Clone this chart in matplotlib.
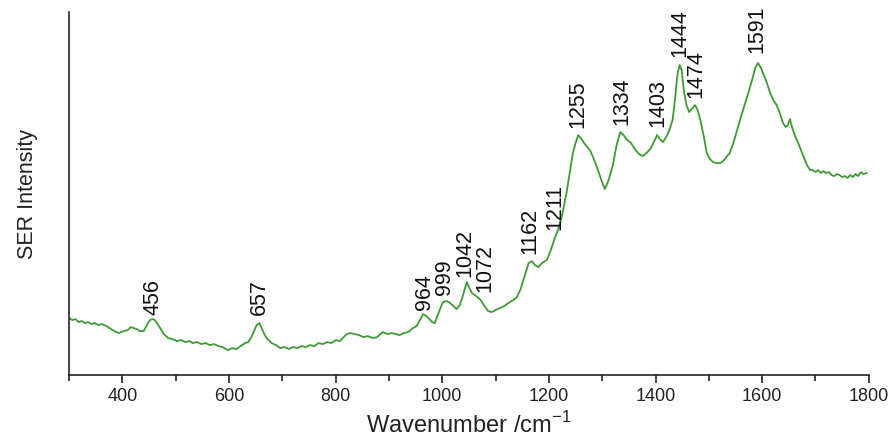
import matplotlib
matplotlib.use("Agg")
import matplotlib.pyplot as plt
from matplotlib.ticker import MultipleLocator

plt.rcParams['font.family'] = ['Liberation Sans', 'DejaVu Sans']
plt.rcParams['mathtext.fontset'] = 'custom'
plt.rcParams['mathtext.rm'] = 'Liberation Sans'

wavenumber = [
    300, 306, 312, 318, 324, 330, 336, 342, 348, 355, 362, 370, 376, 382, 388, 394,
    402, 410, 416, 421, 427, 433, 440, 448, 452, 457, 461, 466, 471, 478, 486,
    494, 502, 510, 518, 526, 532, 540, 548, 556, 564, 572, 580, 588, 598, 606,
    614, 622, 630, 636, 642, 647, 652, 657, 662, 667, 672, 680, 688, 696, 704, 712,
    720, 728, 736, 744, 752, 760, 768, 776, 784, 792, 800, 808, 815, 821, 828, 836,
    844, 852, 860, 870, 878, 884, 889, 897, 905, 913, 920, 928, 936, 945, 952, 958,
    964, 970, 976, 981, 986, 993, 1001, 1008, 1015, 1021, 1027, 1033, 1039, 1046,
    1051, 1056, 1061, 1066, 1072, 1078, 1086, 1093, 1100, 1108, 1116, 1124, 1133,
    1140, 1147, 1155, 1162, 1168, 1174, 1180, 1187, 1196, 1203, 1211, 1217, 1224,
    1233, 1240, 1245, 1250, 1255, 1260, 1266, 1272, 1278, 1285, 1292, 1299, 1305,
    1312, 1320, 1327, 1334, 1340, 1347, 1354, 1361, 1369, 1376, 1383, 1390, 1396,
    1403, 1408, 1414, 1420, 1426, 1432, 1437, 1441, 1445, 1449, 1453, 1458, 1463,
    1468, 1474, 1479, 1484, 1490, 1496, 1502, 1508, 1514, 1521, 1527, 1533, 1539,
    1546, 1553, 1560, 1567, 1574, 1581, 1587, 1592, 1597, 1603, 1609, 1615, 1621,
    1627, 1633, 1639, 1644, 1648, 1652, 1656, 1661, 1666, 1672, 1678, 1684, 1690,
    1695, 1700, 1705, 1710, 1715, 1720, 1725, 1730, 1735, 1740, 1745, 1750, 1755,
    1760, 1765, 1770, 1775, 1780, 1785, 1790, 1796]
intensity = [
    57, 55, 56, 53, 54, 52, 53, 51, 52, 50, 51, 49, 47, 45, 43, 42,
    44, 45, 48, 47, 46, 44, 44, 52, 55, 56, 55, 51, 47, 41, 37,
    36, 34, 35, 33, 34, 32, 33, 31, 32, 30, 31, 29, 28, 25, 27,
    26, 29, 32, 33, 38, 44, 50, 52, 46, 40, 36, 32, 30, 27, 28, 26,
    28, 27, 29, 28, 30, 29, 32, 31, 33, 32, 35, 34, 38, 41, 42, 41,
    40, 38, 39, 37, 38, 41, 43, 41, 42, 41, 40, 42, 43, 47, 49, 55,
    61, 59, 56, 53, 52, 62, 73, 74, 72, 69, 66, 70, 80, 93,
    87, 82, 80, 78, 75, 70, 64, 63, 65, 67, 69, 72, 75,
    78, 86, 100, 112, 114, 110, 108, 112, 115, 124, 137, 145, 158,
    182, 205, 222, 232, 240, 237, 232, 228, 224, 215, 205, 194, 186,
    195, 210, 230, 243, 240, 235, 232, 226, 221, 219, 222, 226, 232,
    240, 236, 233, 238, 245, 255, 278, 300, 310, 305, 285, 270, 263,
    266, 270, 265, 255, 240, 222, 216, 213, 212, 212, 214, 218, 222,
    232, 245, 258, 270, 282, 295, 307, 312, 308, 300, 292, 282, 275,
    270, 262, 252, 248, 250, 256, 248, 240, 234, 226, 218, 210, 205,
    205, 203, 205, 202, 204, 202, 203, 200, 199, 201, 200, 198, 199,
    197, 200, 198, 201, 199, 203, 201, 202]

peak_labels = ['456', '657', '964', '999', '1042', '1072', '1162', '1211', '1255',
               '1334', '1403', '1444', '1474', '1591']
peak_pos = [458, 657, 966, 1004, 1043, 1079, 1164, 1211, 1255, 1336, 1405, 1446, 1476, 1591]
label_base = [60, 60, 65, 80, 98, 83, 121, 145, 247, 250, 248, 318, 277, 322]

fig = plt.figure(figsize=(8.92, 4.46), dpi=100)
ax = fig.add_axes([0.0774, 0.159, 0.8966, 0.814])
ax.plot(wavenumber, intensity, color='#3f9a35', lw=1.3)

for lab, xp, yb in zip(peak_labels, peak_pos, label_base):
    ax.text(xp, yb, lab, rotation=90, ha='center', va='bottom', fontsize=15.5, color='#111111')

ax.set_xlim(300, 1800)
ax.set_ylim(0, 363)
ax.set_xticks([400, 600, 800, 1000, 1200, 1400, 1600, 1800])
ax.xaxis.set_minor_locator(MultipleLocator(100))
ax.tick_params(axis='x', which='major', length=6, width=1.2, labelsize=13, pad=3, colors='#222222')
ax.tick_params(axis='x', which='minor', length=4, width=1.2, colors='#222222')
ax.set_yticks([])
for s in ['top', 'right']:
    ax.spines[s].set_visible(False)
for s in ['left', 'bottom']:
    ax.spines[s].set_linewidth(1.2)
    ax.spines[s].set_color('#222222')

ax.set_xlabel('Wavenumber /cm$^{\\mathregular{-1}}$', fontsize=17, labelpad=5, color='#222222')
ax.set_ylabel('SER Intensity', fontsize=15.5, labelpad=22, color='#222222')

fig.savefig('out.png', dpi=100)
